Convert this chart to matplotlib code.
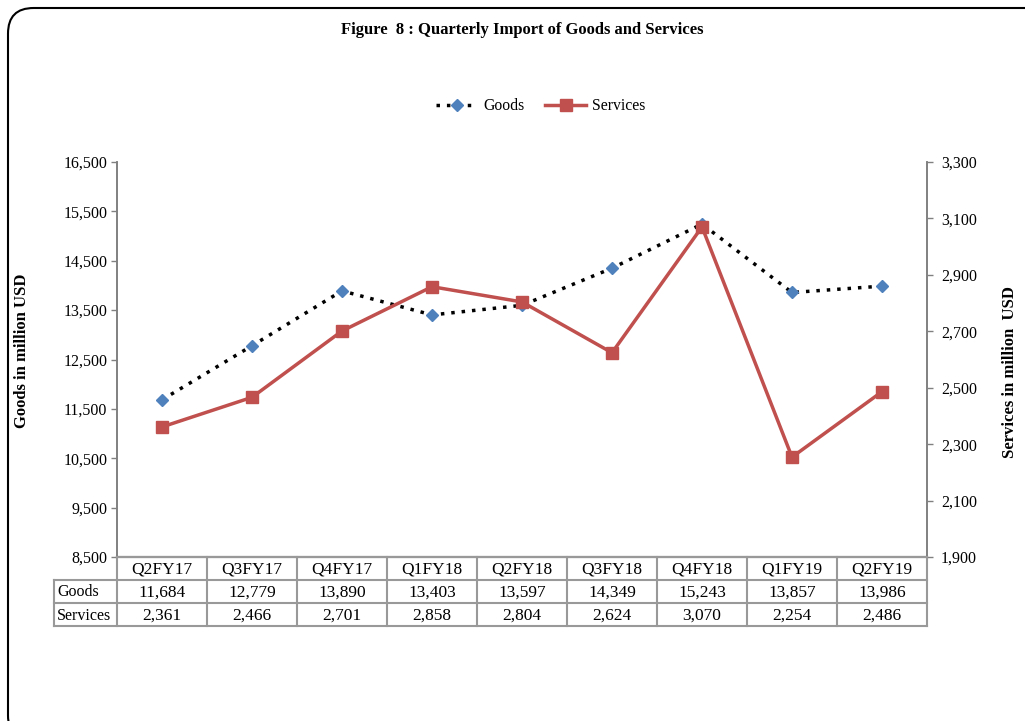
import matplotlib
matplotlib.use("Agg")
import matplotlib.pyplot as plt
from matplotlib.patches import FancyBboxPatch
from matplotlib.lines import Line2D
from matplotlib.ticker import FuncFormatter

plt.rcParams['font.family'] = ['Liberation Serif', 'DejaVu Serif']

quarters = ["Q2FY17", "Q3FY17", "Q4FY17", "Q1FY18", "Q2FY18", "Q3FY18", "Q4FY18", "Q1FY19", "Q2FY19"]
goods = [11684, 12779, 13890, 13403, 13597, 14349, 15243, 13857, 13986]
services = [2361, 2466, 2701, 2858, 2804, 2624, 3070, 2254, 2486]
goods_ticks = [8500, 9500, 10500, 11500, 12500, 13500, 14500, 15500, 16500]
services_ticks = [1900, 2100, 2300, 2500, 2700, 2900, 3100, 3300]

W, H = 1025, 721
fig = plt.figure(figsize=(W / 100, H / 100), dpi=100)

# rounded border
border = FancyBboxPatch((8 / W, -20 / H), (W + 20) / W, (H - 8 + 20) / H,
                        boxstyle="round,pad=0,rounding_size=0.025",
                        transform=fig.transFigure, fill=False, lw=1.5, ec='black',
                        mutation_aspect=W / H)
fig.patches.append(border)

L, R, T, B = 117, 927, 162, 557
ax = fig.add_axes([L / W, 1 - B / H, (R - L) / W, (B - T) / H])
ax2 = ax.twinx()

x = list(range(len(quarters)))
ax.plot(x, goods, linestyle=(0, (1, 2)), color='black', lw=2.5,
        marker='D', markersize=6.5, markerfacecolor='#4F81BD', markeredgecolor='#4F81BD',
        label='Goods', zorder=3)
ax2.plot(x, services, linestyle='-', color='#C0504D', lw=2.5,
         marker='s', markersize=8, markerfacecolor='#C0504D', markeredgecolor='#C0504D',
         label='Services', zorder=3)

ax.set_xlim(-0.5, len(quarters) - 0.5)
ax.set_ylim(goods_ticks[0], goods_ticks[-1])
ax2.set_ylim(services_ticks[0], services_ticks[-1])
ax.set_yticks(goods_ticks)
ax2.set_yticks(services_ticks)
fmt = FuncFormatter(lambda v, p: f"{int(v):,}")
ax.yaxis.set_major_formatter(fmt)
ax2.yaxis.set_major_formatter(fmt)
ax.set_xticks([])
ax.tick_params(axis='y', labelsize=11.5, length=4, color='#808080', width=1, pad=3)
ax2.tick_params(axis='y', labelsize=11.5, length=4, color='#808080', width=1, pad=6)
for a in (ax, ax2):
    a.spines['top'].set_visible(False)
    a.spines['left'].set_color('#808080')
    a.spines['right'].set_color('#808080')
    a.spines['bottom'].set_color('#808080')
    a.spines['left'].set_linewidth(1.2)
    a.spines['right'].set_linewidth(1.2)
    a.spines['bottom'].set_linewidth(1.5)

ax.set_ylabel("Goods in million USD", fontsize=12, fontweight='bold')
ax.yaxis.set_label_coords((30 - L) / (R - L), (B - 351) / (B - T))
ax2.set_ylabel("Services in million  USD", fontsize=12, fontweight='bold', rotation=90)
ax2.yaxis.set_label_coords((1002 - L) / (R - L), (B - 372) / (B - T))

fig.text(522 / W, 1 - 30 / H, "Figure  8 : Quarterly Import of Goods and Services",
         ha='center', va='center', fontsize=12, fontweight='bold')

# legend
h1 = Line2D([], [], linestyle=(0, (1, 2)), color='black', lw=2.5, marker='D', markersize=6.5,
            markerfacecolor='#4F81BD', markeredgecolor='#4F81BD')
h2 = Line2D([], [], linestyle='-', color='#C0504D', lw=2.5, marker='s', markersize=8,
            markerfacecolor='#C0504D', markeredgecolor='#C0504D')
fig.legend([h1, h2], ["Goods", "Services"], loc='center', bbox_to_anchor=(541 / W, 1 - 106 / H),
           ncol=2, frameon=False, fontsize=11.3, handlelength=2.6, handletextpad=0.4,
           columnspacing=1.3)

# data table
grid = '#999999'
rows_y = [557, 580, 603, 626]
label_left = 54
colw = (R - L) / len(quarters)
def fx(px):
    return px / W
def fy(py):
    return 1 - py / H
fig.add_artist(Line2D([fx(L), fx(R)], [fy(rows_y[0])] * 2, color=grid, lw=1.5))
for yy in rows_y[1:]:
    fig.add_artist(Line2D([fx(label_left), fx(R)], [fy(yy)] * 2, color=grid, lw=1.5))
for i in range(len(quarters) + 1):
    xx = L + i * colw
    fig.add_artist(Line2D([fx(xx)] * 2, [fy(rows_y[0]), fy(rows_y[-1])], color=grid, lw=1.5))
fig.add_artist(Line2D([fx(label_left)] * 2, [fy(rows_y[1]), fy(rows_y[-1])], color=grid, lw=1.5))

cell_fs = 12.5
for i, q in enumerate(quarters):
    cx = L + (i + 0.5) * colw
    fig.text(fx(cx), fy((rows_y[0] + rows_y[1]) / 2 + 1), q, ha='center', va='center', fontsize=cell_fs)
    fig.text(fx(cx), fy((rows_y[1] + rows_y[2]) / 2 + 1), f"{goods[i]:,}", ha='center', va='center', fontsize=cell_fs)
    fig.text(fx(cx), fy((rows_y[2] + rows_y[3]) / 2 + 1), f"{services[i]:,}", ha='center', va='center', fontsize=cell_fs)
fig.text(fx(label_left + 3), fy((rows_y[1] + rows_y[2]) / 2 + 1), "Goods", ha='left', va='center', fontsize=11.5)
fig.text(fx(label_left + 3), fy((rows_y[2] + rows_y[3]) / 2 + 1), "Services", ha='left', va='center', fontsize=11.5)

fig.savefig("out.png", dpi=100)
